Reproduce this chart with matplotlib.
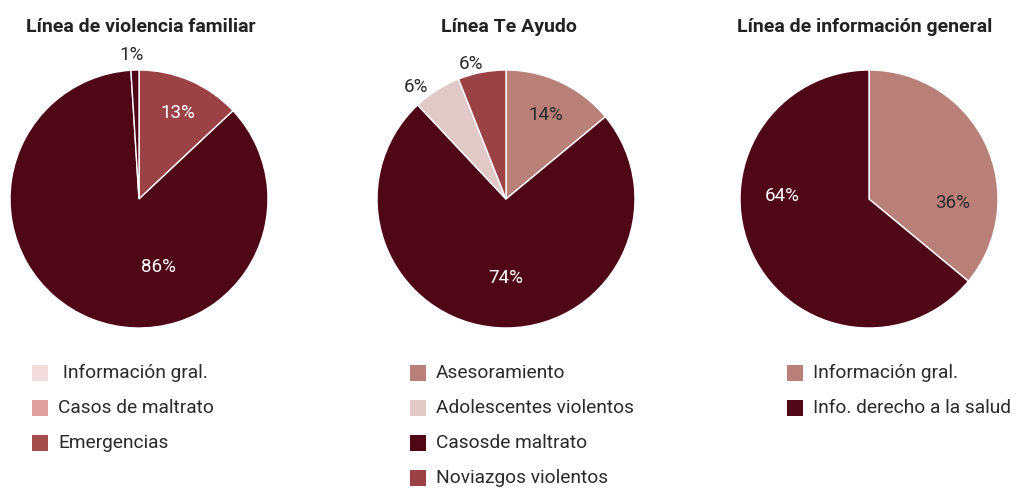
import matplotlib.pyplot as plt
from matplotlib.patches import Rectangle

plt.rcParams['font.family'] = ['Roboto', 'DejaVu Sans']

# colores
MAROON = "#4f0717"
RED = "#9b4247"
ROSE = "#b98079"
LIGHT = "#e0c9c7"
DARK_TXT = "#2a2a2a"

titles = ["Línea de violencia familiar", "Línea Te Ayudo", "Línea de información general"]

# pie 1 (clockwise from top)
vals1 = [13, 86, 1]
cols1 = [RED, MAROON, MAROON]
lab_col1 = ["white", "white", DARK_TXT]
leg_labels1 = [" Información gral.", "Casos de maltrato", "Emergencias"]
leg_cols1 = ["#f3dcdc", "#dfa0a0", "#a34c4c"]

# pie 2
vals2 = [14, 74, 6, 6]
cols2 = [ROSE, MAROON, LIGHT, RED]
lab_col2 = [DARK_TXT, "white", DARK_TXT, DARK_TXT]
leg_labels2 = ["Asesoramiento", "Adolescentes violentos", "Casosde maltrato", "Noviazgos violentos"]
leg_cols2 = [ROSE, LIGHT, MAROON, RED]

# pie 3
vals3 = [36, 64]
cols3 = [ROSE, MAROON]
lab_col3 = [DARK_TXT, "white"]
leg_labels3 = ["Información gral.", "Info. derecho a la salud"]
leg_cols3 = [ROSE, MAROON]

# label positions (in pie radius units)
lab_pos = [
    [(0.30, 0.67), (0.15, -0.53), (-0.06, 1.12)],
    [(0.31, 0.65), (0.0, -0.61), (-0.70, 0.87), (-0.27, 1.05)],
    [(0.65, -0.03), (-0.67, 0.02)],
]

W, H = 1016, 488
fig = plt.figure(figsize=(W / 100, H / 100), dpi=100)

centers = [139, 506, 869]
title_x = [141, 509, 865]
cy = 199
R = 129
legend_x = [32, 410, 787]
row_y = [373, 408, 443, 478]

data = [(vals1, cols1, lab_col1, leg_labels1, leg_cols1),
        (vals2, cols2, lab_col2, leg_labels2, leg_cols2),
        (vals3, cols3, lab_col3, leg_labels3, leg_cols3)]

for i, (vals, cols, lcols, llabels, lcolors) in enumerate(data):
    cx = centers[i]
    ax = fig.add_axes([(cx - R - 2) / W, (H - cy - R - 2) / H, (2 * R + 4) / W, (2 * R + 4) / H])
    wedges, texts = ax.pie(vals, colors=cols, startangle=90, counterclock=False,
                           wedgeprops=dict(edgecolor="white", linewidth=1))
    lim = (R + 2) / R
    ax.set_xlim(-lim, lim)
    ax.set_ylim(-lim, lim)
    ax.set_aspect("equal")
    for v, c, p in zip(vals, lcols, lab_pos[i]):
        ax.text(p[0], p[1], f"{v}%", color=c, fontsize=13.5, ha="center", va="center")

    fig.text(title_x[i] / W, 1 - 27 / H, titles[i], fontsize=14, fontweight="bold",
             color="#222222", ha="center", va="center")

    for j, (lab, c) in enumerate(zip(llabels, lcolors)):
        y = row_y[j]
        fig.patches.append(Rectangle((legend_x[i] / W, (H - y - 8) / H), 16 / W, 16 / H,
                                     transform=fig.transFigure, facecolor=c, edgecolor="none"))
        fig.text((legend_x[i] + 26) / W, 1 - y / H, lab, fontsize=13.8, color=DARK_TXT,
                 ha="left", va="center")

fig.savefig("out.png", dpi=100)
